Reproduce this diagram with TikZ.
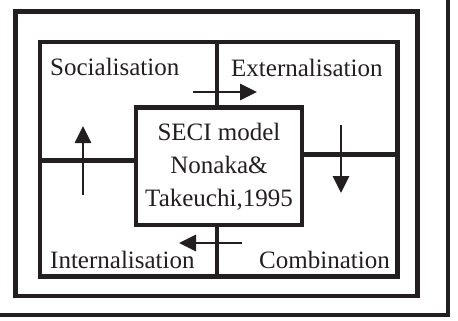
\documentclass[tikz,border=0pt]{standalone}
\usepackage{fontspec}
\setmainfont{Liberation Serif}
\usetikzlibrary{arrows.meta}
\definecolor{ink}{HTML}{231F20}
\begin{document}
\begin{tikzpicture}[x=1pt,y=-1pt,
  frame/.style={draw=ink,line width=4.6pt},
  flow/.style={draw=ink,line width=2.8pt,-{Triangle[length=17pt,width=16pt]}},
  lbl/.style={font=\fontsize{25}{30}\selectfont,text=ink,inner sep=0pt,anchor=base west}]
\useasboundingbox (0,0) rectangle (458,321);
% outermost border (only its right and bottom sides fall inside the page)
\begin{scope}
  \clip (0,0) rectangle (458,321);
  \coordinate (oc) at (448,315);
  \draw[frame] (-10,315) -- (oc) -- (448,-10);
\end{scope}
% middle border
\coordinate (mnw) at (15.5,11.5);
\coordinate (mse) at (417.5,296);
\draw[frame] (mnw) rectangle (mse);
% quadrant frame
\coordinate (nw) at (40,42);
\coordinate (se) at (397.5,276.5);
\draw[frame] (nw) rectangle (se);
% central box
\node[frame,fill=white,minimum width=166pt,minimum height=117.5pt,inner sep=0pt,
      align=center,text=ink,font=\fontsize{25}{33}\selectfont] (seci) at (219,166.3)
  {SECI model\\Nonaka\&\\Takeuchi,1995};
% quadrant dividers
\coordinate (vx) at (216.8,0);
\coordinate (hl) at (0,160.5);
\coordinate (hr) at (0,154.5);
\draw[frame] (nw -| vx) -- (seci.north -| vx);
\draw[frame] (seci.south -| vx) -- (se -| vx);
\draw[frame] (nw |- hl) -- (seci.west |- hl);
\draw[frame] (seci.east |- hr) -- (se |- hr);
% quadrant labels
\node[lbl] (soc) at (50,75) {Socialisation};
\node[lbl] (ext) at (231,76.5) {Externalisation};
\node[lbl] (int) at (50,268) {Internalisation};
\node[lbl] (com) at (259,268) {Combination};
% knowledge conversion arrows
\coordinate (t1) at (193,92);   \coordinate (t2) at (257,92);
\coordinate (r1) at (341,125);  \coordinate (r2) at (341,193);
\coordinate (b1) at (242,243);  \coordinate (b2) at (179,243);
\coordinate (l1) at (83,195);   \coordinate (l2) at (83,126);
\draw[flow] (t1) -- (t2);
\draw[flow] (r1) -- (r2);
\draw[flow] (b1) -- (b2);
\draw[flow] (l1) -- (l2);
\end{tikzpicture}
\end{document}
